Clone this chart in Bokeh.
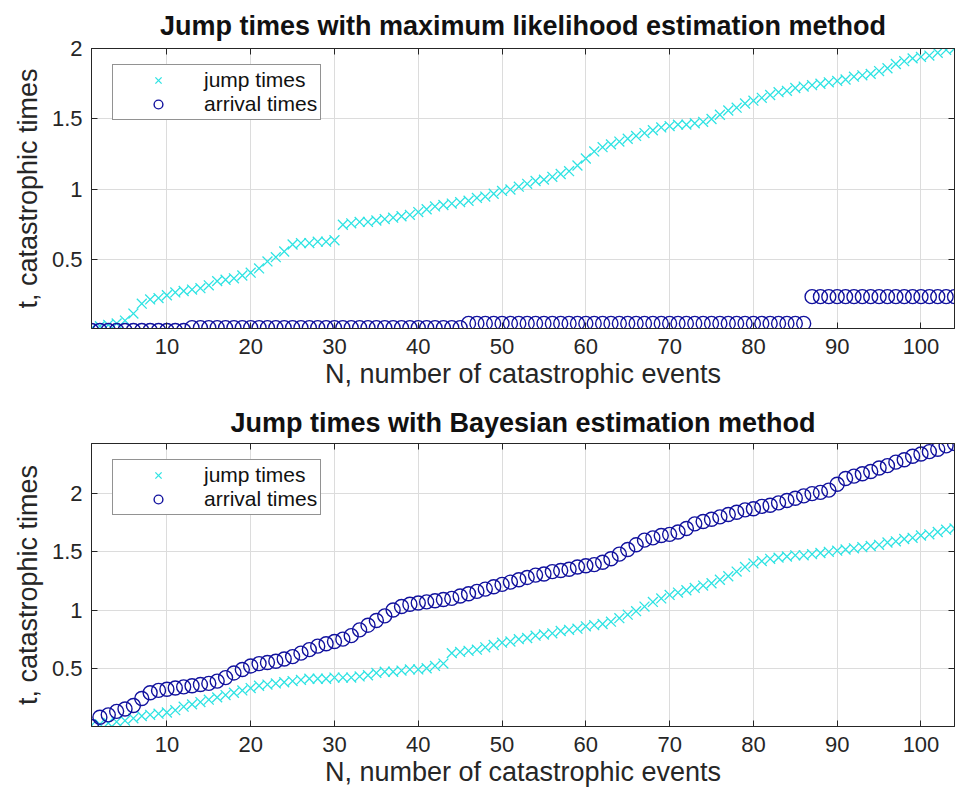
from bokeh.plotting import figure
from bokeh.models import Range1d, LinearAxis, FixedTicker, Legend, LegendItem, CustomJSTickFormatter
from bokeh.layouts import column
from bokeh.embed import file_html
from bokeh.resources import INLINE

# ---------------- data ----------------
N = list(range(1, 105))

ml_jump = [0.014, 0.03, 0.04, 0.05, 0.07, 0.12, 0.19, 0.22, 0.23, 0.25,
           0.27, 0.28, 0.29, 0.30, 0.32, 0.35, 0.36, 0.37, 0.39, 0.41,
           0.44, 0.49, 0.52, 0.56, 0.61, 0.62, 0.62, 0.63, 0.63, 0.64,
           0.75, 0.76, 0.77, 0.77, 0.78, 0.79, 0.80, 0.81, 0.82, 0.84,
           0.86, 0.88, 0.89, 0.90, 0.91, 0.92, 0.94, 0.95, 0.97, 0.99,
           1.00, 1.02, 1.04, 1.06, 1.07, 1.09, 1.11, 1.13, 1.17, 1.22,
           1.27, 1.30, 1.32, 1.34, 1.36, 1.38, 1.40, 1.42, 1.44, 1.45,
           1.46, 1.46, 1.47, 1.48, 1.50, 1.53, 1.56, 1.58, 1.61, 1.63,
           1.65, 1.67, 1.69, 1.70, 1.72, 1.73, 1.74, 1.75, 1.76, 1.77,
           1.78, 1.80, 1.81, 1.82, 1.84, 1.86, 1.89, 1.91, 1.93, 1.94,
           1.95, 1.97, 1.99, 2.00]

ml_arrival = [0.00, 0.00, 0.00, 0.00, 0.00, 0.00, 0.00, 0.00, 0.00, 0.00,
              0.00, 0.00, 0.02, 0.02, 0.02, 0.02, 0.02, 0.02, 0.02, 0.02,
              0.02, 0.02, 0.02, 0.02, 0.02, 0.02, 0.02, 0.02, 0.02, 0.02,
              0.02, 0.02, 0.02, 0.02, 0.02, 0.02, 0.02, 0.02, 0.02, 0.02,
              0.02, 0.02, 0.02, 0.02, 0.02, 0.05, 0.05, 0.05, 0.05, 0.05,
              0.05, 0.05, 0.05, 0.05, 0.05, 0.05, 0.05, 0.05, 0.05, 0.05,
              0.05, 0.05, 0.05, 0.05, 0.05, 0.05, 0.05, 0.05, 0.05, 0.05,
              0.05, 0.05, 0.05, 0.05, 0.05, 0.05, 0.05, 0.05, 0.05, 0.05,
              0.05, 0.05, 0.05, 0.05, 0.05, 0.05, 0.24, 0.24, 0.24, 0.24,
              0.24, 0.24, 0.24, 0.24, 0.24, 0.24, 0.24, 0.24, 0.24, 0.24,
              0.24, 0.24, 0.24, 0.24]

bayes_jump = [0.01, 0.02, 0.03, 0.04, 0.05, 0.07, 0.09, 0.10, 0.11, 0.12,
              0.14, 0.17, 0.19, 0.21, 0.23, 0.25, 0.27, 0.29, 0.31, 0.33,
              0.35, 0.36, 0.37, 0.38, 0.39, 0.40, 0.41, 0.41, 0.41, 0.42,
              0.42, 0.42, 0.43, 0.44, 0.46, 0.47, 0.47, 0.48, 0.49, 0.49,
              0.50, 0.52, 0.54, 0.63, 0.64, 0.65, 0.66, 0.68, 0.70, 0.72,
              0.73, 0.75, 0.76, 0.78, 0.79, 0.80, 0.82, 0.83, 0.84, 0.86,
              0.87, 0.88, 0.90, 0.93, 0.96, 0.99, 1.03, 1.07, 1.10, 1.13,
              1.15, 1.17, 1.19, 1.21, 1.23, 1.26, 1.29, 1.33, 1.37, 1.40,
              1.42, 1.44, 1.45, 1.46, 1.47, 1.47, 1.48, 1.49, 1.50, 1.51,
              1.52, 1.53, 1.54, 1.55, 1.56, 1.58, 1.59, 1.61, 1.62, 1.64,
              1.65, 1.67, 1.69, 1.70]

bayes_arrival = [0.00, 0.08, 0.10, 0.13, 0.15, 0.18, 0.24, 0.29, 0.31, 0.32,
                 0.33, 0.34, 0.35, 0.36, 0.37, 0.39, 0.42, 0.46, 0.49, 0.52,
                 0.54, 0.55, 0.56, 0.58, 0.60, 0.63, 0.66, 0.69, 0.71, 0.73,
                 0.75, 0.78, 0.83, 0.87, 0.91, 0.95, 1.00, 1.03, 1.05, 1.06,
                 1.07, 1.08, 1.09, 1.10, 1.12, 1.14, 1.16, 1.18, 1.20, 1.22,
                 1.24, 1.26, 1.28, 1.30, 1.31, 1.33, 1.34, 1.35, 1.37, 1.38,
                 1.39, 1.41, 1.44, 1.48, 1.52, 1.56, 1.60, 1.62, 1.64, 1.65,
                 1.67, 1.70, 1.74, 1.76, 1.78, 1.80, 1.82, 1.84, 1.86, 1.87,
                 1.89, 1.90, 1.92, 1.94, 1.96, 1.98, 2.00, 2.01, 2.03, 2.08,
                 2.13, 2.15, 2.17, 2.19, 2.22, 2.24, 2.27, 2.29, 2.32, 2.34,
                 2.36, 2.38, 2.41, 2.43]

x_ticks = [10, 20, 30, 40, 50, 60, 70, 80, 90, 100]
x_tick_labels = ["10", "20", "30", "40", "50", "60", "70", "80", "90", "100"]
y_ticks = [0.5, 1, 1.5, 2]
y_tick_labels = ["0.5", "1", "1.5", "2"]

titles = ["Jump times with maximum likelihood estimation method",
          "Jump times with Bayesian estimation method"]
x_label = "N, number of catastrophic events"
y_label = "t, catastrophic times"
series_labels = ["jump times", "arrival times"]

# ---------------- style ----------------
FONT = "Liberation Sans"
CYAN = "#2fe3e3"
NAVY = "#12129e"
AX = "#262626"
GRID = "#dcdcdc"


def make_plot(title, jump, arrival, ymin, ymax, height, b_top, b_bottom, legend_vy, title_standoff):
    p = figure(width=960, height=height,
               x_range=Range1d(1, 104), y_range=Range1d(ymin, ymax),
               output_backend="svg", toolbar_location=None,
               min_border_left=91, min_border_right=6,
               min_border_top=b_top, min_border_bottom=b_bottom,
               x_axis_label=x_label, y_axis_label=y_label)
    p.title.text = title
    p.title.align = "center"
    p.title.text_font = FONT
    p.title.text_font_size = "27px"
    p.title.text_font_style = "bold"
    p.title.text_color = "#111111"
    p.title.standoff = title_standoff

    p.outline_line_color = AX
    p.background_fill_color = "white"
    p.border_fill_color = "white"

    p.xaxis.ticker = FixedTicker(ticks=x_ticks)
    p.xaxis.major_label_overrides = dict(zip(x_ticks, x_tick_labels))
    p.yaxis.ticker = FixedTicker(ticks=y_ticks)
    p.yaxis.major_label_overrides = dict(zip(y_ticks, y_tick_labels))
    for ax in (p.xaxis[0], p.yaxis[0]):
        ax.major_tick_in = 6
        ax.major_tick_out = 0
        ax.minor_tick_in = 0
        ax.minor_tick_out = 0
        ax.axis_line_color = AX
        ax.major_tick_line_color = AX
        ax.major_label_text_font = FONT
        ax.major_label_text_font_size = "22px"
        ax.major_label_text_color = AX
        ax.axis_label_text_font = FONT
        ax.axis_label_text_font_size = "27px"
        ax.axis_label_text_font_style = "normal"
        ax.axis_label_text_color = AX
    p.xaxis.major_label_standoff = 10
    p.xaxis.axis_label_standoff = 2
    p.yaxis.major_label_standoff = 9
    p.yaxis.axis_label_standoff = 6

    blank = CustomJSTickFormatter(code="return ''")
    top_ax = LinearAxis(ticker=FixedTicker(ticks=x_ticks), formatter=blank,
                        major_tick_in=6, major_tick_out=0, minor_tick_in=0, minor_tick_out=0,
                        major_label_standoff=0, axis_line_color=AX, major_tick_line_color=AX)
    right_ax = LinearAxis(ticker=FixedTicker(ticks=y_ticks), formatter=blank,
                          major_tick_in=6, major_tick_out=0, minor_tick_in=0, minor_tick_out=0,
                          major_label_standoff=0, axis_line_color=AX, major_tick_line_color=AX)
    p.add_layout(top_ax, "above")
    p.add_layout(right_ax, "right")

    p.xgrid.ticker = FixedTicker(ticks=x_ticks)
    p.ygrid.ticker = FixedTicker(ticks=y_ticks)
    p.xgrid.grid_line_color = GRID
    p.ygrid.grid_line_color = GRID

    r_jump = p.scatter(N, jump, marker="x", size=14, line_color=CYAN, line_width=1.3)
    r_arr = p.scatter(N, arrival, marker="circle", size=14, fill_color=None,
                      line_color=NAVY, line_width=1.4)

    legend = Legend(items=[LegendItem(label=series_labels[0], renderers=[r_jump]),
                           LegendItem(label=series_labels[1], renderers=[r_arr])],
                    location=(21, legend_vy), padding=3, spacing=0, margin=0,
                    glyph_width=84, glyph_height=22, label_height=22, label_standoff=4,
                    label_text_font=FONT, label_text_font_size="21px", label_text_color="#111111",
                    border_line_color=AX, border_line_width=1, background_fill_color="white",
                    background_fill_alpha=1)
    p.add_layout(legend)
    return p


p1 = make_plot(titles[0], ml_jump, ml_arrival, 0.014, 2.0, 395, 47, 67, 208, 16)
p2 = make_plot(titles[1], bayes_jump, bayes_arrival, 0.0, 2.43, 394, 48, 61, 211, 11)

layout = column(p1, p2, spacing=0)
open("out.html", "w").write(file_html(layout, INLINE))
